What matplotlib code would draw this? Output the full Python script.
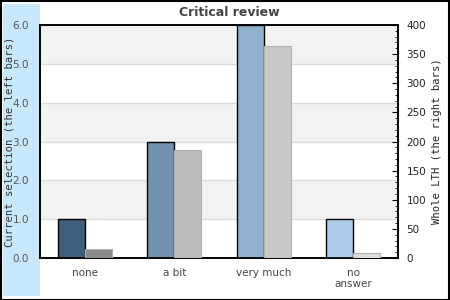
import matplotlib
matplotlib.use("Agg")
from matplotlib import pyplot as plt
from matplotlib.patches import Rectangle
from matplotlib.ticker import MultipleLocator

# data
categories = ["none", "a bit", "very much", "no\nanswer"]
current = [1, 3, 6, 1]             # left axis
whole = [15, 186, 364, 8]          # right axis
left_colors = ["#3f5f7c", "#7092ae", "#8fb1cd", "#abcde9"]
right_colors = ["#8a8a8a", "#bcbcbc", "#c9c9c9", "#dcdcdc"]

fig = plt.figure(figsize=(4.5, 3), dpi=100)

# blue band on the left + border of the whole picture
fig.patches.append(Rectangle((3/450, 4/300), 37/450, 292/300, transform=fig.transFigure,
                             facecolor="#c8e7fb", edgecolor="none", zorder=-1))
fig.patches.append(Rectangle((0.5/450, 0.5/300), 448.5/450, 298.5/300, transform=fig.transFigure,
                             fill=False, edgecolor="black", linewidth=1.5, zorder=5))

ax = fig.add_axes([40/450, 42/300, 358/450, 233/300])
ax.set_xlim(-0.5, 3.5)
ax.set_ylim(0, 6)

# alternating bands + grid
for lo in [1, 3, 5]:
    ax.axhspan(lo, lo + 1, color="#f2f2f2", zorder=0, lw=0)
for y in range(1, 6):
    ax.axhline(y, color="#dcdcdc", lw=1, zorder=1)

x = range(len(categories))
w = 0.3
ax.bar([i - w/2 for i in x], current, width=w, color=left_colors,
       edgecolor="black", linewidth=1, zorder=3)

ax.set_yticks([0, 1, 2, 3, 4, 5, 6])
ax.set_yticklabels(["0.0", "1.0", "2.0", "3.0", "4.0", "5.0", "6.0"])
ax.tick_params(axis="y", length=0, labelsize=7.5, labelcolor="#555555", pad=8)
ax.set_xticks(list(x))
ax.set_xticklabels(categories)
ax.tick_params(axis="x", length=0, labelsize=7.5, labelcolor="#444444", pad=7)
for s in ax.spines.values():
    s.set_linewidth(1.2)
ax.set_ylabel("Current selection (the left bars)", family="DejaVu Sans Mono",
              fontsize=7.6, color="#333333")
ax.yaxis.set_label_coords(-0.072, 0.5)

ax2 = ax.twinx()
ax2.set_ylim(0, 400)
ax2.bar([i + w/2 for i in x], whole, width=w, color=right_colors,
        edgecolor="#b0b0b0", linewidth=0.8, zorder=3)
ax2.yaxis.set_major_locator(MultipleLocator(50))
ax2.yaxis.set_minor_locator(MultipleLocator(10))
ax2.tick_params(axis="y", which="major", direction="in", length=4, labelsize=7.5,
                labelcolor="#222222", pad=6)
ax2.tick_params(axis="y", which="minor", direction="in", length=2)
ax2.set_ylabel("Whole LTH (the right bars)", family="DejaVu Sans Mono",
               fontsize=7.6, color="#222222", labelpad=4)
for s in ax2.spines.values():
    s.set_linewidth(1.2)

fig.text(0.5 + 4/450, 1 - 12/300, "Critical review", ha="center", va="center",
         fontsize=9, fontweight="bold", color="#444444")

fig.savefig("out.png", dpi=100)
